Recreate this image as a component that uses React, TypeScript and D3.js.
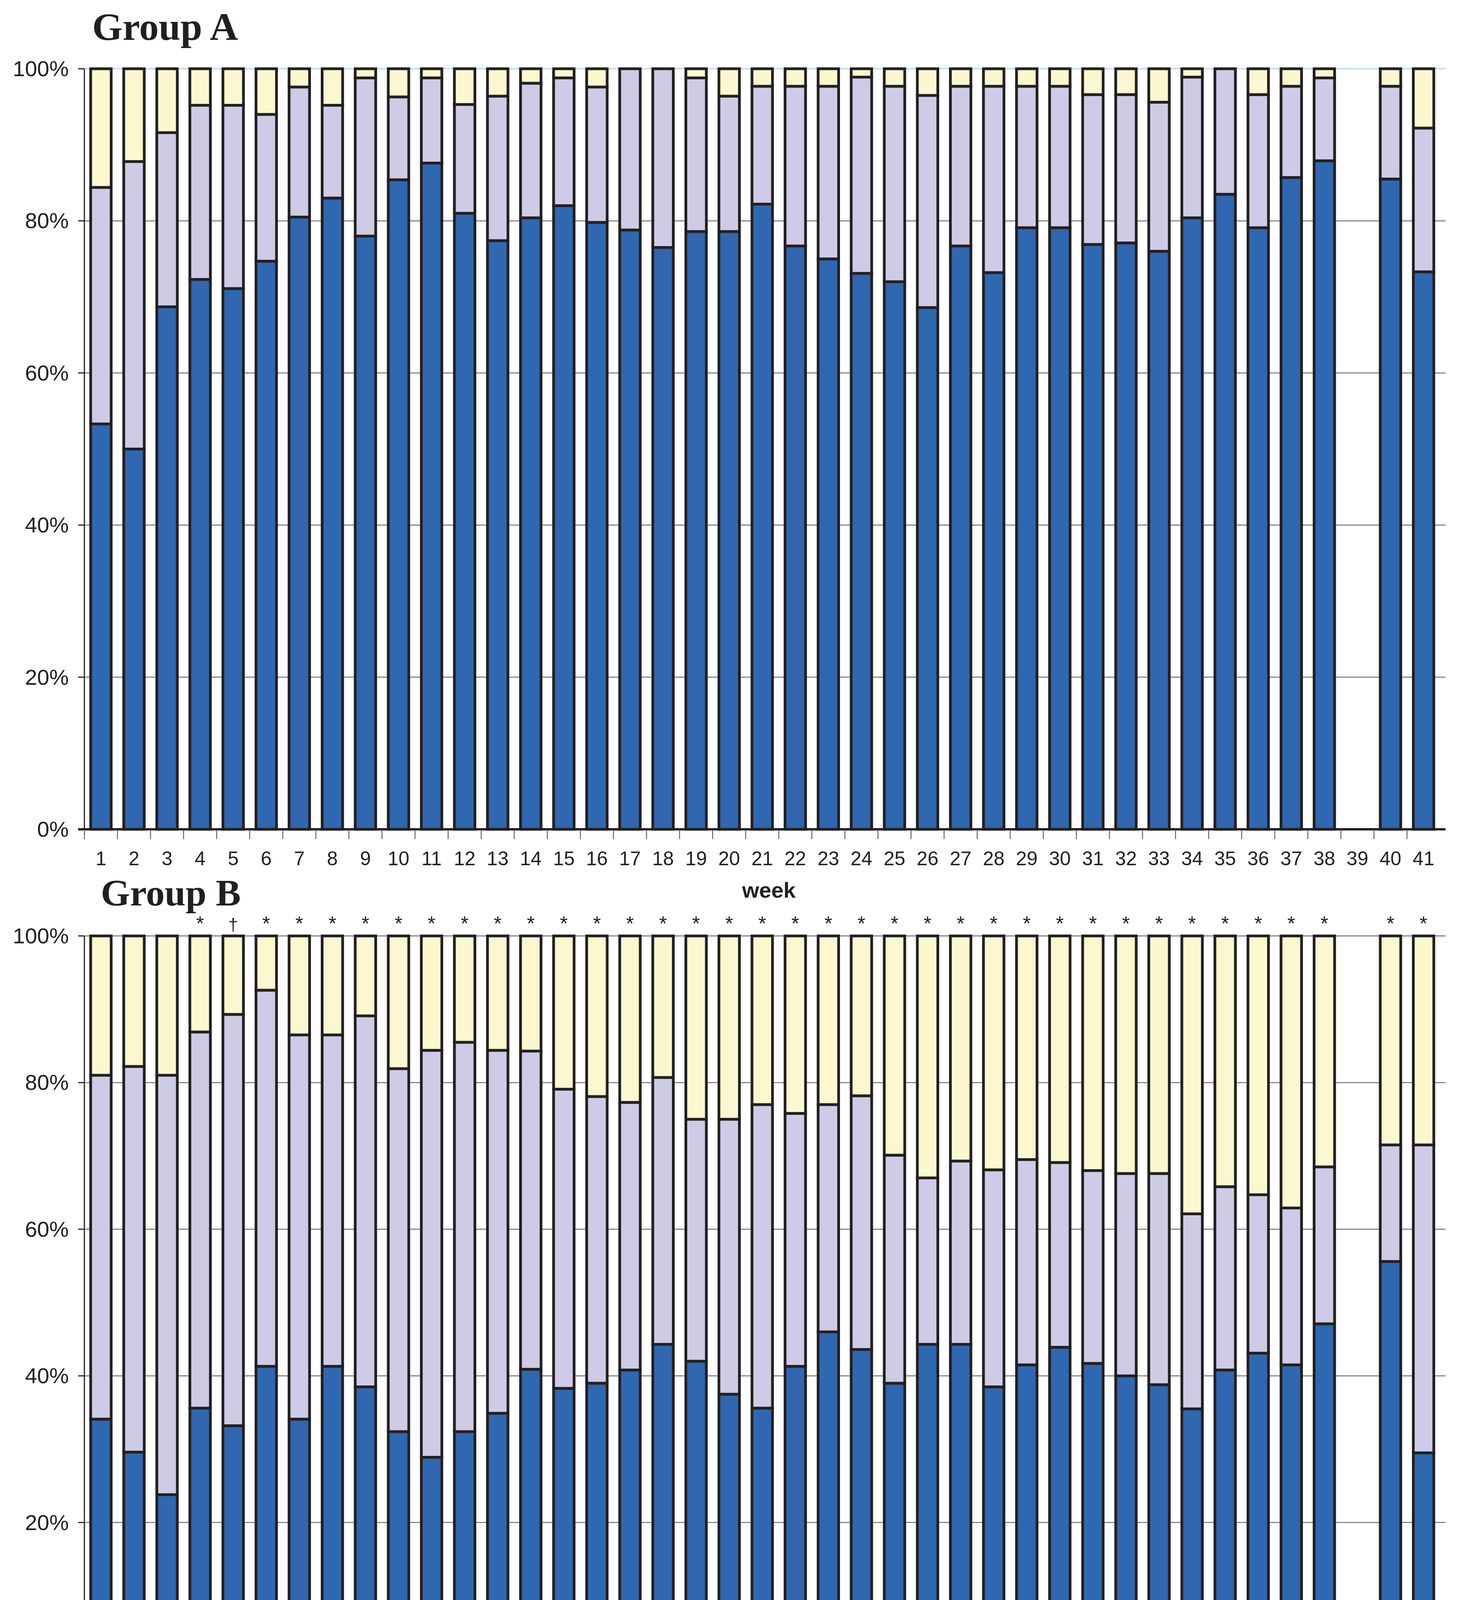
import * as d3 from "d3"

const weeks = d3.range(1, 42).map(String)
// Group A: LS=1 share, LS<=2 cumulative share (null = no data)
const aLS1 = [53.3, 50, 68.7, 72.3, 71.1, 74.7, 80.5, 83, 78, 85.4, 87.6, 81, 77.4, 80.4, 82, 79.8, 78.8, 76.5, 78.6, 78.6, 82.2, 76.7, 75, 73.1, 72, 68.6, 76.7, 73.2, 79.1, 79.1, 76.9, 77.1, 76, 80.4, 83.5, 79.1, 85.7, 87.9, null, 85.5, 73.3]
const aCum2 = [84.4, 87.8, 91.6, 95.2, 95.2, 94, 97.6, 95.2, 98.8, 96.3, 98.8, 95.3, 96.4, 98.1, 98.8, 97.6, 100, 100, 98.8, 96.4, 97.7, 97.7, 97.7, 98.9, 97.7, 96.5, 97.7, 97.7, 97.7, 97.7, 96.6, 96.6, 95.6, 98.9, 100, 96.6, 97.7, 98.8, null, 97.7, 92.2]
const bLS1 = [34.1, 29.6, 23.8, 35.6, 33.2, 41.3, 34.1, 41.3, 38.5, 32.4, 28.9, 32.4, 34.9, 40.9, 38.3, 39.0, 40.8, 44.3, 42.0, 37.5, 35.6, 41.3, 46.0, 43.6, 39.0, 44.3, 44.3, 38.5, 41.5, 43.9, 41.7, 40.0, 38.8, 35.5, 40.8, 43.1, 41.5, 47.1, null, 55.6, 29.5]
const bCum2 = [81.0, 82.2, 81.0, 86.9, 89.3, 92.6, 86.5, 86.5, 89.1, 81.9, 84.4, 85.5, 84.4, 84.3, 79.1, 78.1, 77.3, 80.7, 75.0, 75.0, 77.0, 75.8, 77.0, 78.2, 70.1, 67.0, 69.3, 68.1, 69.5, 69.1, 68.0, 67.6, 67.6, 62.1, 65.8, 64.7, 62.9, 68.5, null, 71.5, 71.5]
const bSig = ["", "", "", "*", "†", "*", "*", "*", "*", "*", "*", "*", "*", "*", "*", "*", "*", "*", "*", "*", "*", "*", "*", "*", "*", "*", "*", "*", "*", "*", "*", "*", "*", "*", "*", "*", "*", "*", "", "*", "*"]
const yTicks = [0, 20, 40, 60, 80, 100]
const legendItems = ["LS=1", "LS=2", "LS>2"]

const C1 = "#2f67b1", C2 = "#cecbe6", C3 = "#fbf8cf", C3L = "#f9f39b"
const W = 3760, H = 4790
const x = d3.scaleBand().domain(weeks).range([216, 3686]).paddingInner(0.38).paddingOuter(0.19)
const sans = "Liberation Sans, Arial, sans-serif"
const serif = "Liberation Serif, Times New Roman, serif"

function Panel({ top, bottom, ls1, cum2, sig, blueTop }: any) {
  const y = d3.scaleLinear().domain([0, 100]).range([bottom, top])
  const bw = x.bandwidth()
  return (
    <g>
      {yTicks.map((t) => (
        <g key={t}>
          {t > 0 && <line x1={216} x2={3700} y1={y(t)} y2={y(t)} stroke={t === 100 && blueTop ? "#9cc6e8" : "#555"} strokeWidth={2} />}
          <line x1={200} x2={216} y1={y(t)} y2={y(t)} stroke="#222" strokeWidth={3} />
          <text x={176} y={y(t) + 19} textAnchor="end" fontFamily={sans} fontSize={56} fill="#231f20">{t}%</text>
        </g>
      ))}
      <line x1={216} x2={216} y1={top} y2={bottom} stroke="#222" strokeWidth={3} />
      {weeks.map((w, i) => {
        const a = ls1[i], b = cum2[i]
        if (a == null) return null
        const x0 = x(w)!
        const segs = [[0, a, C1], [a, b, C2], [b, 100, C3]].filter((s: any) => s[1] > s[0])
        return (
          <g key={w}>
            {segs.map((s: any, k) => (
              <rect key={k} x={x0} y={y(s[1])} width={bw} height={y(s[0]) - y(s[1])} fill={s[2]} stroke="#231f20" strokeWidth={7} />
            ))}
          </g>
        )
      })}
      <line x1={200} x2={3700} y1={bottom} y2={bottom} stroke="#231f20" strokeWidth={6} />
      {weeks.map((w, i) => (
        <g key={w}>
          <line x1={x(w)! - x.step() * 0.19} x2={x(w)! - x.step() * 0.19} y1={bottom} y2={bottom + 25} stroke="#444" strokeWidth={2} />
          <text x={x(w)! + bw / 2} y={bottom + 92} textAnchor="middle" fontFamily={sans} fontSize={50} fill="#231f20">{w}</text>
          {sig && sig[i] && (
            <text x={x(w)! + bw / 2} y={top - 14} textAnchor="middle" fontFamily={sans} fontSize={sig[i] === "*" ? 52 : 44} fill="#231f20">{sig[i]}</text>
          )}
        </g>
      ))}
      <text x={1968} y={bottom + 175} textAnchor="middle" fontFamily={sans} fontWeight="bold" fontSize={56} fill="#231f20">week</text>
    </g>
  )
}

export default function App() {
  const lx = [222, 749, 1072, 1423, 1872, 2222, 2723]
  const fills = [C1, "#fff", C2, "#fff", C3L, "#fff"]
  return (
    <svg width={W} height={H} viewBox={`0 0 ${W} ${H}`} style={{ display: "block", margin: "-8px 0 0 -8px", background: "#fff" }}>
      <text x={236} y={102} fontFamily={serif} fontWeight="bold" fontSize={100} fill="#231f20">Group A</text>
      <Panel top={176} bottom={2123} ls1={aLS1} cum2={aCum2} blueTop />
      <text x={258} y={2318} fontFamily={serif} fontWeight="bold" fontSize={96} fill="#231f20">Group B</text>
      <Panel top={2396} bottom={4273} ls1={bLS1} cum2={bCum2} sig={bSig} />
      {fills.map((f, i) => (
        <rect key={i} x={lx[i]} y={4493} width={lx[i + 1] - lx[i]} height={132} fill={f} stroke="#231f20" strokeWidth={3} />
      ))}
      <rect x={222} y={4493} width={2501} height={132} fill="none" stroke="#231f20" strokeWidth={6} />
      {legendItems.map((l, i) => (
        <text key={l} x={lx[i * 2 + 1] + 22} y={4582} fontFamily={sans} fontSize={80} fill="#231f20">{l}</text>
      ))}
      <text x={222} y={4740} fontFamily={serif} fontSize={72} fill="#231f20">
        Group A <tspan fontStyle="italic">vs.</tspan> Group B: * <tspan fontStyle="italic">P</tspan> &lt; 0.05, <tspan dy={-30} fontSize={48}>†</tspan><tspan dy={30} fontStyle="italic">P</tspan> &lt; 0.1.
      </text>
    </svg>
  )
}
